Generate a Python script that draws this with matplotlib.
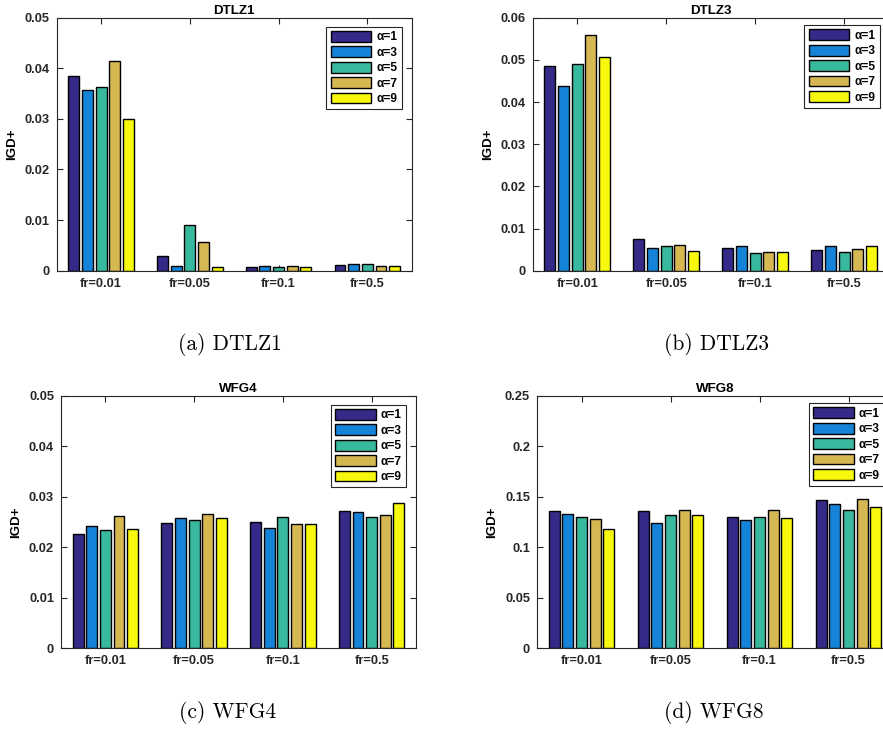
import matplotlib
matplotlib.use("Agg")
import matplotlib.pyplot as plt
import numpy as np
from matplotlib.patches import Patch

# ---------------- data ----------------
groups = ["fr=0.01", "fr=0.05", "fr=0.1", "fr=0.5"]
series_labels = ["α=1", "α=3", "α=5", "α=7", "α=9"]

# rows: groups, cols: alpha series
dtlz1 = [
    [0.0384, 0.0357, 0.0364, 0.0414, 0.0300],
    [0.00283, 0.00092, 0.00896, 0.00567, 0.00072],
    [0.0007, 0.00086, 0.0007, 0.00086, 0.0007],
    [0.00105, 0.00125, 0.0013, 0.0010, 0.00092],
]
dtlz3 = [
    [0.0485, 0.0438, 0.0491, 0.0560, 0.0507],
    [0.00753, 0.00539, 0.00579, 0.00602, 0.00476],
    [0.00531, 0.00594, 0.00412, 0.00436, 0.00444],
    [0.00491, 0.00594, 0.00452, 0.00515, 0.00594],
]
wfg4 = [
    [0.02263, 0.0242, 0.02335, 0.0261, 0.02355],
    [0.02487, 0.0258, 0.02533, 0.02652, 0.0258],
    [0.02493, 0.02388, 0.02606, 0.02454, 0.02454],
    [0.02711, 0.02691, 0.02599, 0.02639, 0.02876],
]
wfg8 = [
    [0.1359, 0.1326, 0.1296, 0.1276, 0.1177],
    [0.1355, 0.1237, 0.1316, 0.1369, 0.1316],
    [0.1299, 0.1270, 0.1299, 0.1369, 0.1293],
    [0.1468, 0.1431, 0.1372, 0.1478, 0.1402],
]

titles = ["DTLZ1", "DTLZ3", "WFG4", "WFG8"]
captions = ["(a) DTLZ1", "(b) DTLZ3", "(c) WFG4", "(d) WFG8"]
yticks_list = [
    [0, 0.01, 0.02, 0.03, 0.04, 0.05],
    [0, 0.01, 0.02, 0.03, 0.04, 0.05, 0.06],
    [0, 0.01, 0.02, 0.03, 0.04, 0.05],
    [0, 0.05, 0.1, 0.15, 0.2, 0.25],
]
ytick_labels_list = [
    ["0", "0.01", "0.02", "0.03", "0.04", "0.05"],
    ["0", "0.01", "0.02", "0.03", "0.04", "0.05", "0.06"],
    ["0", "0.01", "0.02", "0.03", "0.04", "0.05"],
    ["0", "0.05", "0.1", "0.15", "0.2", "0.25"],
]

colors = ["#352A87", "#1584D8", "#38B89C", "#D6B853", "#F8F80E"]

# ---------------- figure ----------------
W, H = 883, 740
fig = plt.figure(figsize=(W / 100, H / 100), dpi=100)
fig.patch.set_facecolor("white")

# axes boxes in pixels: left, top, width, height
boxes = [
    (56.7, 17.7, 355, 253),
    (532.7, 17.7, 356, 253),
    (61, 395.7, 355, 252.6),
    (537, 395.7, 356, 252.6),
]
caption_pos = [(230, 345), (716, 345), (228, 712), (714, 712)]
legend_anchor = [(0.972, 0.964), (0.975, 0.97), (0.972, 0.964), (0.975, 0.97)]

datasets = [dtlz1, dtlz3, wfg4, wfg8]
fontbold = {"family": "Liberation Sans", "weight": "bold"}
axcol = "#262626"

x = np.arange(1, len(groups) + 1)
nser = len(series_labels)
groupwidth = min(0.8, nser / (nser + 1.5))
pitch = groupwidth / nser
barw = pitch * 0.8

for k, (data, box) in enumerate(zip(datasets, boxes)):
    l, t, w, h = box
    ax = fig.add_axes([l / W, 1 - (t + h) / H, w / W, h / H])
    arr = np.array(data)
    for j in range(nser):
        offs = (j - (nser - 1) / 2) * pitch
        ax.bar(x + offs, arr[:, j], width=barw, color=colors[j],
               edgecolor="black", linewidth=1.0, label=series_labels[j], zorder=2)
    ax.set_xlim(0.5, len(groups) + 0.5)
    ax.set_ylim(yticks_list[k][0], yticks_list[k][-1])
    ax.set_xticks(x)
    ax.set_xticklabels(groups, fontdict=fontbold, fontsize=9.3, color=axcol)
    ax.set_yticks(yticks_list[k])
    ax.set_yticklabels(ytick_labels_list[k], fontdict=fontbold, fontsize=9.3, color=axcol)
    ax.tick_params(direction="in", length=4, width=0.8, colors=axcol,
                   top=True, right=True, pad=5, labelcolor=axcol)
    for s in ax.spines.values():
        s.set_color(axcol)
        s.set_linewidth(0.8)
    ax.set_title(titles[k], fontdict=fontbold, fontsize=9.6, pad=2.5, color="black")
    ax.set_ylabel("IGD+", fontdict=fontbold, fontsize=9.6, labelpad=5, color="black")
    handles = [Patch(facecolor=colors[j], edgecolor="black", linewidth=1.0)
               for j in range(nser)]
    leg = ax.legend(handles, series_labels, loc="upper right",
                    bbox_to_anchor=legend_anchor[k], borderaxespad=0,
                    prop={"family": "Liberation Sans", "weight": "bold", "size": 8.6},
                    handlelength=3.4, handleheight=1.0, handletextpad=0.45,
                    labelspacing=0.25, borderpad=0.35, fancybox=False,
                    framealpha=1, edgecolor=axcol)
    leg.get_frame().set_linewidth(0.8)

    cx, cy = caption_pos[k]
    fig.text(cx / W, 1 - cy / H, captions[k], ha="center", va="center",
             family="cmr10", fontsize=15.5)

fig.savefig("out.png", dpi=100, facecolor="white")
